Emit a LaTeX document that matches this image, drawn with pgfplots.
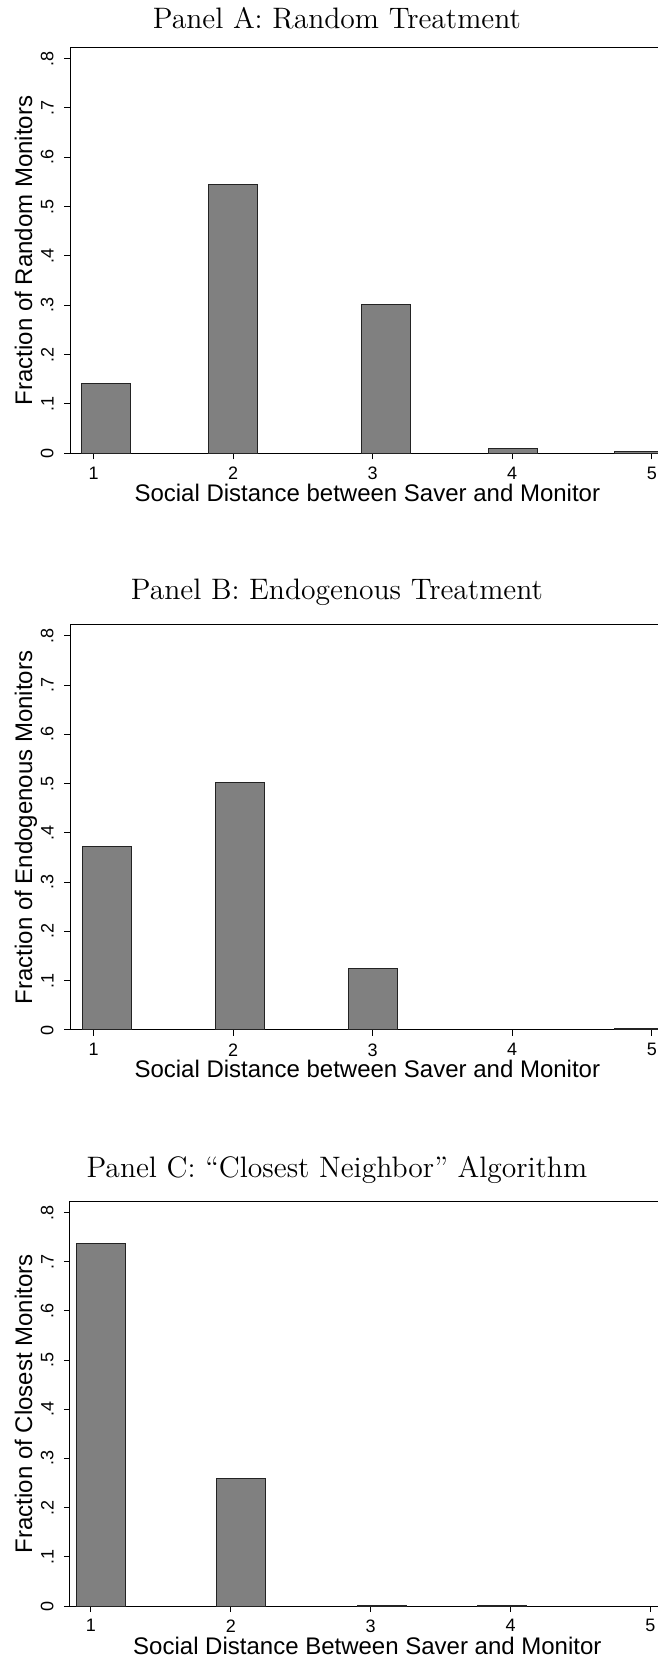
\documentclass[border=0pt]{standalone}
\usepackage{pgfplots}
\pgfplotsset{compat=1.18}
\usepackage{fontspec}
\newfontfamily\arial{Liberation Sans}
\definecolor{barfill}{RGB}{128,128,128}
\definecolor{baredge}{RGB}{35,35,35}

\pgfplotsset{
  panel/.style={
    scale only axis, width=295pt,
    ymin=0, ymax=0.822,
    xtick={1,2,3,4,5}, xticklabels={1,2,3,4,5},
    ytick={0,0.1,0.2,0.3,0.4,0.5,0.6,0.7,0.8},
    yticklabels={0,.1,.2,.3,.4,.5,.6,.7,.8},
    xtick pos=bottom, ytick pos=left,
    tick align=outside, major tick length=3pt,
    tick style={black, line width=0.5pt},
    axis line style={black, line width=0.5pt},
    /pgf/number format/assume math mode=true,
    ticklabel style={font=\arial\fontsize{9}{11}\selectfont},
    xticklabel style={anchor=north, inner sep=0pt, yshift=-3.6pt},
    yticklabel style={xshift=-5pt, rotate=90, anchor=south, inner sep=0pt},
    label style={font=\arial\fontsize{12}{14}\selectfont},
    xlabel style={at={(axis description cs:0.504,0)}, anchor=base, yshift=-24pt},
    ylabel style={at={(axis description cs:-0.0641,0.5)}, anchor=base},
    every axis title shift=0pt,
    title style={font=\fontsize{14.8}{17}\selectfont, at={(axis description cs:0.4524,1)}, anchor=base},
  },
  bars/.style={ybar, bar width=0.352, fill=barfill, draw=baredge, line width=0.5pt},
}

\begin{document}
\begin{tikzpicture}
% Panel A
\begin{axis}[panel, at={(35pt,603.85pt)}, anchor=south west,
  height=202.8pt, xmin=0.83, xmax=5.059,
  title={Panel A: Random Treatment}, title style={yshift=9.7pt},
  xlabel={Social Distance between Saver and Monitor},
  ylabel={Fraction of Random Monitors}]
\addplot[bars] coordinates {(1.09,0.1405) (1.997,0.545) (3.094,0.302) (4.003,0.0095) (4.908,0.0035)};
\end{axis}
% Panel B
\begin{axis}[panel, at={(35pt,315.5pt)}, anchor=south west,
  height=202.5pt, xmin=0.83, xmax=5.059,
  title={Panel B: Endogenous Treatment}, title style={yshift=12.5pt},
  xlabel={Social Distance between Saver and Monitor},
  ylabel={Fraction of Endogenous Monitors}]
\addplot[bars] coordinates {(1.097,0.372) (2.048,0.503) (3.003,0.124) (4.91,0.003)};
\end{axis}
% Panel C
\begin{axis}[panel, at={(35pt,27.5pt)}, anchor=south west,
  height=202.15pt, xmin=0.85, xmax=5.068,
  title={Panel C: “Closest Neighbor” Algorithm}, title style={yshift=12.2pt},
  xlabel={Social Distance Between Saver and Monitor},
  ylabel={Fraction of Closest Monitors}]
\addplot[bars] coordinates {(1.072,0.738) (2.075,0.259) (3.078,0.002) (3.937,0.002)};
\end{axis}
\pgfresetboundingbox
\path[use as bounding box] (0,0) rectangle (329pt,830.5pt);
\end{tikzpicture}
\end{document}
